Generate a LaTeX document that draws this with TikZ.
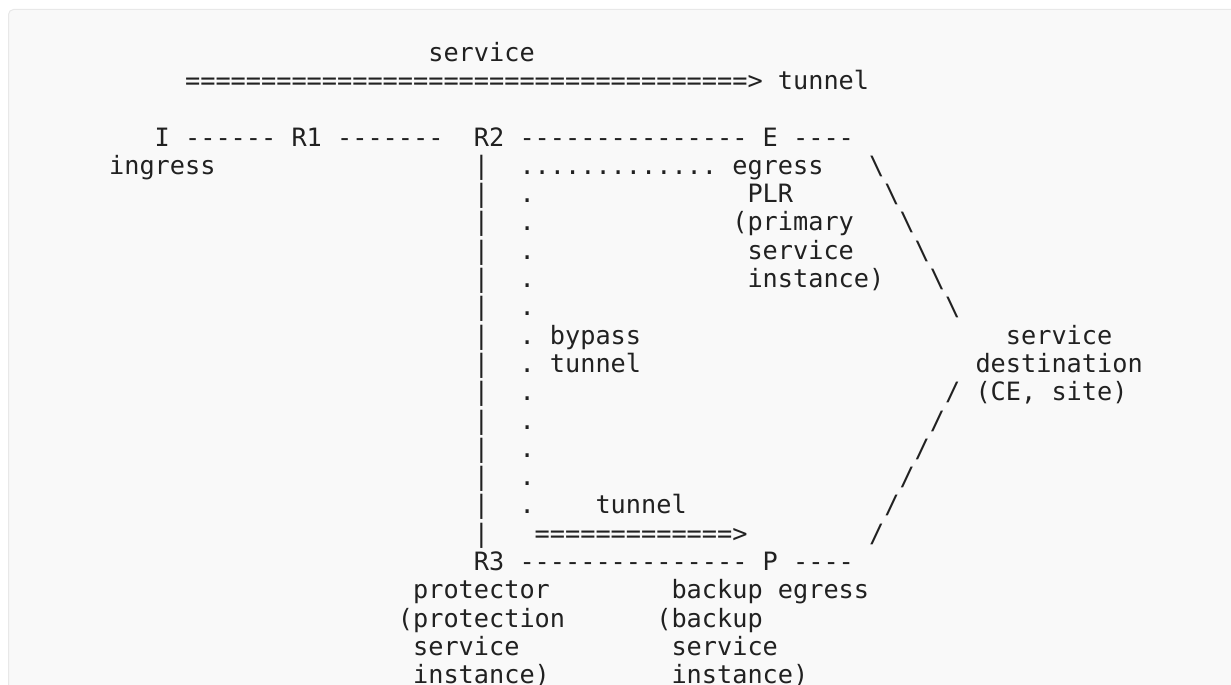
\documentclass[tikz,border=0pt]{standalone}
\usepackage{fontspec}
\setmonofont{DejaVu Sans Mono}
\definecolor{ink}{RGB}{33,33,33}
\definecolor{boxfill}{RGB}{249,249,249}
\definecolor{boxline}{RGB}{232,232,232}
\tikzset{
  txt/.style={anchor=base west, inner sep=0pt, outer sep=0pt, text=ink,
    font=\ttfamily\fontsize{25.25pt}{28.3pt}\selectfont}
}
\begin{document}
\begin{tikzpicture}[x=1pt,y=-1pt]

\useasboundingbox (0,0) rectangle (1231,685);
\filldraw [fill=boxfill, draw=boxline, line width=1pt, rounded corners=5pt] (8.5,9.5) rectangle (1260,720);

% one unit = one character cell, rows counted downwards
\begin{scope}[shift={(109.1pt,-146pt)}, x=15.2pt, y=-28.3pt]

\node [txt] (svc) at (21,-3) {service};
\node [txt] (tunarrow) at (5,-2) {=====================================>};
\node [txt] (tuntxt) at (44,-2) {tunnel};

\node [txt] (I) at (3,0) {I};
\node [txt] (IR1) at (5,0) {------};
\node [txt] (R1) at (12,0) {R1};
\node [txt] (R1R2) at (15,0) {-------};
\node [txt] (R2) at (24,0) {R2};
\node [txt] (R2E) at (27,0) {---------------};
\node [txt] (E) at (43,0) {E};
\node [txt] (Eout) at (45,0) {----};
\node [txt] (ingress) at (0,1) {ingress};

\foreach \r in {1,...,14} \node [txt] (bar\r) at (24,\r) {|};
\node [txt] (dotrun) at (27,1) {.............};
\foreach \r in {2,...,13} \node [txt] (dot\r) at (27,\r) {.};
\node [txt] (egress) at (41,1) {egress};
\node [txt] (PLR) at (42,2) {PLR};
\node [txt] (primary) at (41,3) {(primary};
\node [txt] (prisvc) at (42,4) {service};
\node [txt] (priinst) at (42,5) {instance)};
\node [txt] (bypass) at (29,7) {bypass};
\node [txt] (bytun) at (29,8) {tunnel};

\foreach \r in {1,...,6} \node [txt] (bs\r) at (49+\r,\r) {\textbackslash};
\node [txt] (dsvc) at (59,7) {service};
\node [txt] (ddest) at (57,8) {destination};
\node [txt] (dsite) at (57,9) {(CE, site)};
\foreach \r in {9,...,14} \node [txt] (sl\r) at (64-\r,\r) {/};

\node [txt] (lowtun) at (32,13) {tunnel};
\node [txt] (lowarrow) at (28,14) {=============>};

\node [txt] (R3) at (24,15) {R3};
\node [txt] (R3P) at (27,15) {---------------};
\node [txt] (P) at (43,15) {P};
\node [txt] (Pout) at (45,15) {----};

\node [txt] (protector) at (20,16) {protector};
\node [txt] (protection) at (19,17) {(protection};
\node [txt] (protsvc) at (20,18) {service};
\node [txt] (protinst) at (20,19) {instance)};

\node [txt] (bkegress) at (37,16) {backup egress};
\node [txt] (bkbackup) at (36,17) {(backup};
\node [txt] (bksvc) at (37,18) {service};
\node [txt] (bkinst) at (37,19) {instance)};

\end{scope}

\end{tikzpicture}
\end{document}
